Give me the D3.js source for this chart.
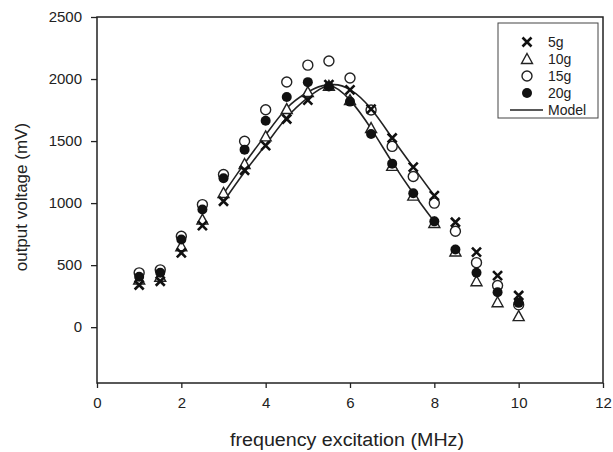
<!DOCTYPE html>
<html lang="en">
<head>
<meta charset="UTF-8">
<title>Output voltage vs frequency</title>
<script src="https://d3js.org/d3.v7.min.js"></script>
<style>
  body { margin: 0; background: #fff; }
  text { font-family: "Liberation Sans", Arial, sans-serif; fill: #222; }
</style>
</head>
<body>
<div id="chart"></div>
<script>
// frequencies and measured output voltage (mV) per mass
const freq = [1, 1.5, 2, 2.5, 3, 3.5, 4, 4.5, 5, 5.5, 6, 6.5, 7, 7.5, 8, 8.5, 9, 9.5, 10];
const v5g  = [340, 370, 599, 819, 1015, 1265, 1463, 1678, 1830, 1955, 1912, 1758, 1525, 1290, 1060, 846, 605, 416, 255];
const v10g = [384, 406, 652, 867, 1082, 1315, 1538, 1758, 1895, 1945, 1830, 1605, 1300, 1060, 840, 610, 370, 201, 89];
const v15g = [438, 462, 733, 988, 1230, 1498, 1753, 1976, 2112, 2145, 2008, 1750, 1457, 1214, 1000, 773, 520, 336, 180];
const v20g = [406, 438, 706, 948, 1200, 1431, 1664, 1855, 1975, 1940, 1818, 1557, 1318, 1080, 853, 626, 438, 282, 196];

// model curves
const modelFreq = [3, 3.5, 4, 4.5, 5, 5.5, 6, 6.5, 7, 7.5, 8];
const modelA = [1010, 1250, 1470, 1690, 1850, 1950, 1915, 1760, 1525, 1290, 1060];
const modelB = [1075, 1320, 1550, 1765, 1895, 1950, 1830, 1600, 1330, 1080, 850];

const xTicks = [0, 2, 4, 6, 8, 10, 12];
const yTicks = [0, 500, 1000, 1500, 2000, 2500];
const legendLabels = ["5g", "10g", "15g", "20g", "Model"];

const W = 613, H = 452;
const margin = { top: 17, right: 10, bottom: 69, left: 97 };
const width = W - margin.left - margin.right;
const height = H - margin.top - margin.bottom;

const svg = d3.select("#chart").append("svg")
  .attr("width", W).attr("height", H);
const g = svg.append("g")
  .attr("transform", `translate(${margin.left},${margin.top})`);

const x = d3.scaleLinear().domain([0, 12]).range([0, width]);
const y = d3.scaleLinear().domain([-450, 2500]).range([height, 0]);

// frame
g.append("rect")
  .attr("width", width).attr("height", height)
  .attr("fill", "none").attr("stroke", "#222").attr("stroke-width", 1.5);

// axes
const xAxis = g.append("g")
  .attr("transform", `translate(0,${height})`)
  .call(d3.axisBottom(x).tickValues(xTicks).tickFormat(d3.format("d")).tickSize(5).tickPadding(9));
const yAxis = g.append("g")
  .call(d3.axisLeft(y).tickValues(yTicks).tickFormat(d3.format("d")).tickSize(6).tickPadding(9));
[xAxis, yAxis].forEach(a => {
  a.select(".domain").remove();
  a.selectAll("line").attr("stroke", "#222").attr("stroke-width", 1.3);
  a.selectAll("text").attr("font-size", 15).attr("fill", "#222")
    .style("font-family", "'Liberation Sans', Arial, sans-serif");
});

// axis titles
svg.append("text")
  .attr("x", margin.left + width / 2 - 3).attr("y", 446)
  .attr("text-anchor", "middle").attr("font-size", 18)
  .attr("textLength", 234).attr("lengthAdjust", "spacingAndGlyphs")
  .text("frequency excitation (MHz)");
svg.append("text")
  .attr("transform", `translate(27,${margin.top + y(1000) - 6}) rotate(-90)`)
  .attr("text-anchor", "middle").attr("font-size", 17)
  .text("output voltage (mV)");

// model lines
const line = d3.line()
  .x((d, i) => x(modelFreq[i]))
  .y(d => y(d))
  .curve(d3.curveNatural);
[modelA, modelB].forEach(m => {
  g.append("path").datum(m)
    .attr("d", line)
    .attr("fill", "none").attr("stroke", "#222").attr("stroke-width", 1.6);
});

// marker drawing helpers
function drawMarker(sel, type) {
  if (type === "circle") {
    sel.append("circle").attr("r", 5)
      .attr("fill", "#fff").attr("stroke", "#222").attr("stroke-width", 1.4);
  } else if (type === "filled") {
    sel.append("circle").attr("r", 5).attr("fill", "#111");
  } else if (type === "triangle") {
    sel.append("path").attr("d", "M0,-5.5L5.5,4.5L-5.5,4.5Z")
      .attr("fill", "#fff").attr("stroke", "#222").attr("stroke-width", 1.4);
  } else if (type === "cross") {
    sel.append("path").attr("d", "M-4.5,-4.5L4.5,4.5M-4.5,4.5L4.5,-4.5")
      .attr("stroke", "#111").attr("stroke-width", 2.6);
  }
}

const series = [
  { vals: v15g, type: "circle" },
  { vals: v10g, type: "triangle" },
  { vals: v20g, type: "filled" },
  { vals: v5g,  type: "cross" }
];
series.forEach(s => {
  s.vals.forEach((v, i) => {
    const m = g.append("g").attr("transform", `translate(${x(freq[i])},${y(v)})`);
    drawMarker(m, s.type);
  });
});

// legend
const lg = svg.append("g").attr("transform", "translate(498,23)");
lg.append("rect").attr("width", 100).attr("height", 95)
  .attr("fill", "#fff").attr("stroke", "#444").attr("stroke-width", 1);
const legTypes = ["cross", "triangle", "circle", "filled", "line"];
legendLabels.forEach((lab, i) => {
  const yy = 19 + i * 17;
  const item = lg.append("g").attr("transform", `translate(29,${yy})`);
  if (legTypes[i] === "line") {
    item.append("line").attr("x1", -17).attr("x2", 16)
      .attr("stroke", "#222").attr("stroke-width", 1.5);
  } else {
    drawMarker(item, legTypes[i]);
  }
  lg.append("text").attr("x", 50).attr("y", yy + 5)
    .attr("font-size", 14).text(lab);
});
</script>
</body>
</html>
